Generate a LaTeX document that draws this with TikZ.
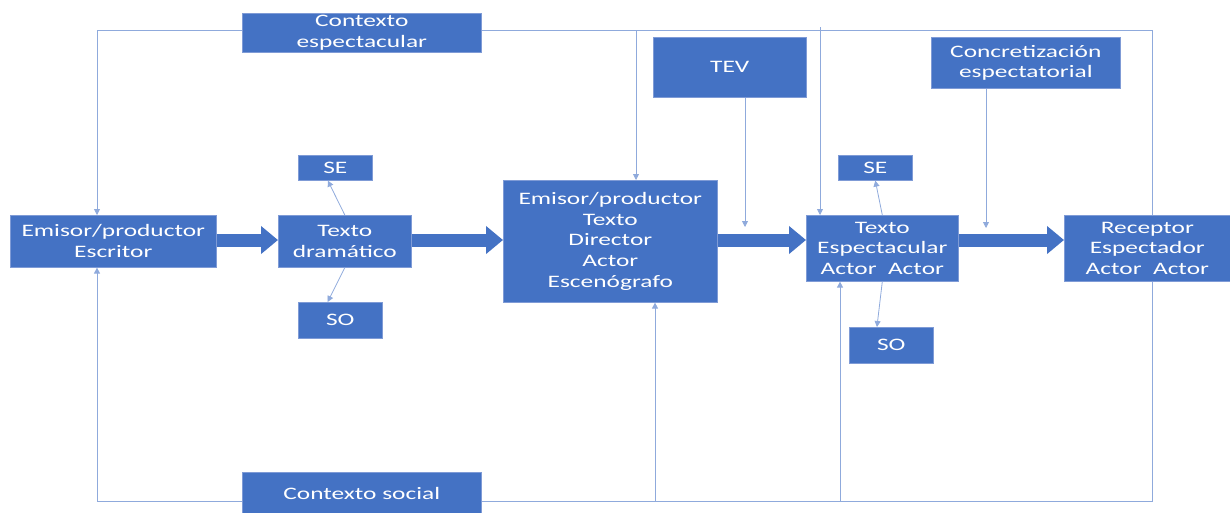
\documentclass[tikz,border=0pt]{standalone}
\usepackage{fontspec}
\setmainfont{Carlito}[FakeStretch=1.45]
\usetikzlibrary{arrows.meta,backgrounds,calc}
\definecolor{boxblue}{HTML}{4472C4}
\definecolor{boxedge}{HTML}{7F9BD6}
\definecolor{linecol}{HTML}{8FAADC}
\tikzset{
  box/.style={rectangle, fill=boxblue, draw=boxedge, line width=0.6pt, text=white,
    align=center, inner sep=0pt, anchor=north west,
    font=\fontsize{17.5}{20.8}\selectfont},
  conn/.style={draw=linecol, line width=0.8pt},
  tip/.style={conn, -{Triangle[length=6pt,width=6pt]}},
  bigarrow/.style={draw=boxblue, line width=13pt, -{Triangle[length=17pt,width=27pt]}}
}
\begin{document}
\begin{tikzpicture}[x=1pt,y=-1pt]
\useasboundingbox (0,0) rectangle (1230,512);
% boxes
\node[box, minimum width=239, minimum height=39] (ce) at (242,13) {Contexto\\espectacular};
\node[box, minimum width=153, minimum height=60] (tev) at (653,37) {TEV};
\node[box, minimum width=189, minimum height=51] (ces) at (931,37) {Concretización\\espectatorial};
\node[box, minimum width=74, minimum height=25] (se1) at (298,155) {SE};
\node[box, minimum width=74, minimum height=25] (se2) at (838,155) {SE};
\node[box, minimum width=206, minimum height=52] (e1) at (10,215) {Emisor/productor\\Escritor};
\node[box, minimum width=133, minimum height=52] (td) at (278,215) {Texto\\dramático};
\node[box, minimum width=214, minimum height=122] (e2) at (503,180) {Emisor/productor\\Texto\\Director\\Actor\\Escenógrafo};
\node[box, minimum width=152, minimum height=66] (te) at (806,215) {Texto\\Espectacular\\Actor\ \ Actor};
\node[box, minimum width=166, minimum height=66] (re) at (1064,215) {Receptor\\Espectador\\Actor\ \ Actor};
\node[box, minimum width=84, minimum height=36] (so1) at (298,302) {SO};
\node[box, minimum width=84, minimum height=36] (so2) at (849,327) {SO};
\node[box, minimum width=239, minimum height=42] (cs) at (242,472) {Contexto social};
% frame coordinates
\coordinate (tl) at (97,30);
\coordinate (tr) at (1152,30);
\coordinate (bl) at (97,501);
\coordinate (br) at (1152,501);
\coordinate (t2) at (636,30);
\coordinate (t3) at (820,27);
\coordinate (b2) at (655,501);
\coordinate (b3) at (840,501);
\coordinate (tevend) at (745,227);
\coordinate (cesend) at (986,228);
\begin{scope}[on background layer]
\draw[conn] (tl) -- (tr) -- (br) -- (bl);
\draw[tip] (tl) -- (tl |- e1.north);
\draw[tip] (bl) -- (bl |- e1.south);
\draw[tip] (t2) -- (t2 |- e2.north);
\draw[tip] (t3) -- (t3 |- te.north);
\draw[tip] (b2) -- (b2 |- e2.south);
\draw[tip] (b3) -- (b3 |- te.south);
\end{scope}
\draw[tip] (tevend |- tev.south) -- (tevend);
\draw[tip] (cesend |- ces.south) -- (cesend);
\draw[tip] (td.north) -- ($(se1.south west)!0.4!(se1.south east)$);
\draw[tip] (td.south) -- ($(so1.north west)!0.35!(so1.north east)$);
\draw[tip] (te.north) -- ($(se2.south west)!0.5!(se2.south east)$);
\draw[tip] (te.south) -- ($(so2.north west)!0.33!(so2.north east)$);
% thick arrows
\draw[bigarrow] (e1.east |- 0,240) -- (td.west |- 0,240);
\draw[bigarrow] (td.east |- 0,240) -- (e2.west |- 0,240);
\draw[bigarrow] (e2.east |- 0,240) -- (te.west |- 0,240);
\draw[bigarrow] (te.east |- 0,240) -- (re.west |- 0,240);
\end{tikzpicture}
\end{document}
